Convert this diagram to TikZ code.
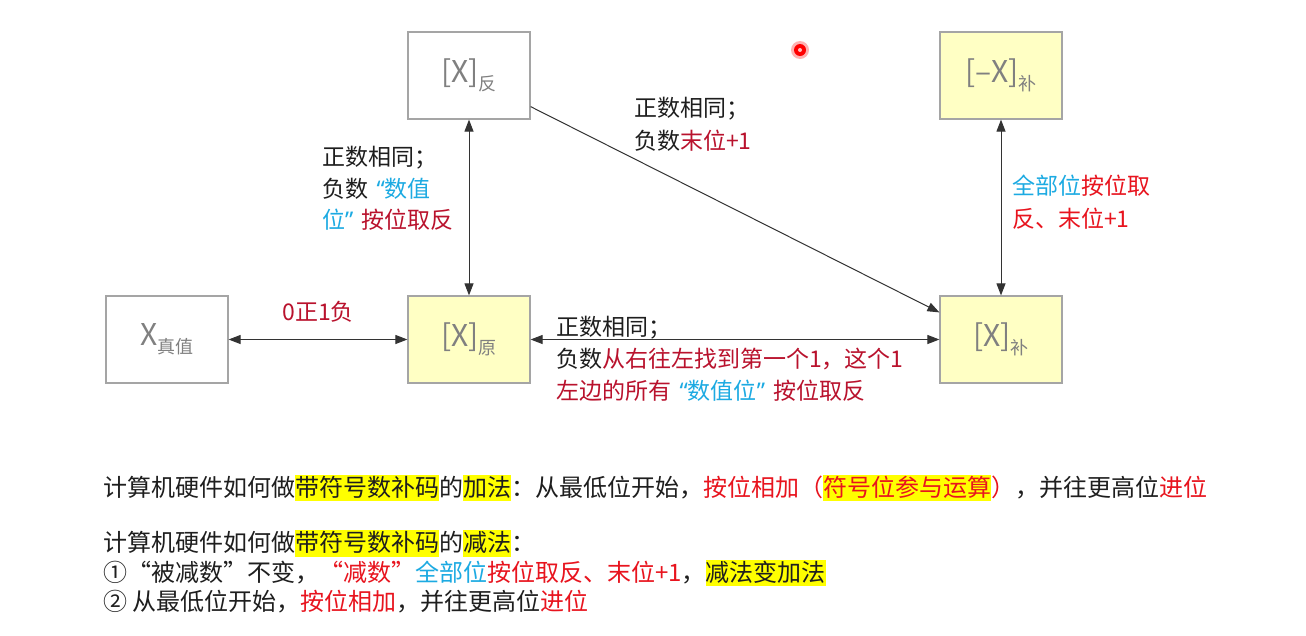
\documentclass[tikz,border=0pt]{standalone}
\usepackage{fontspec}
\setmainfont{Noto Sans CJK SC}
\newfontfamily\latq{Noto Sans}
\usetikzlibrary{arrows.meta}
\definecolor{boxgray}{RGB}{165,165,165}
\definecolor{boxyel}{RGB}{255,255,196}
\definecolor{txtgray}{RGB}{128,128,128}
\definecolor{dred}{RGB}{185,18,45}
\definecolor{bred}{RGB}{232,20,30}
\definecolor{cblue}{RGB}{28,170,226}
\definecolor{ink}{RGB}{30,30,30}
\definecolor{hly}{RGB}{255,255,0}
\newcommand\hlt[1]{{\setlength{\fboxsep}{0pt}\colorbox{hly}{\rule[-0.2em]{0pt}{1.1em}#1}}}
\newcommand\boxlab[2]{{\fontsize{30}{30}\selectfont #1}\raisebox{-8pt}{\fontsize{18}{18}\selectfont #2}}
\newcommand\myLq{\makebox[0.72em][r]{\latq\bfseries “}}
\newcommand\myRq{\makebox[0.72em][l]{\latq\bfseries ”}}
\tikzset{
  >={Triangle[length=12pt,width=9pt]},
  box/.style={draw=boxgray, line width=1.2pt, minimum width=122pt, minimum height=87pt, inner sep=0pt, text=txtgray},
  ybox/.style={box, fill=boxyel},
  wbox/.style={box, fill=white},
  conn/.style={draw=black!80, line width=1pt},
  lbl/.style={anchor=north west, inner sep=0pt, align=left, text=ink},
  bt/.style={inner sep=0pt, align=left, text=ink}
}
\begin{document}
\begin{tikzpicture}[x=1pt,y=-1pt]
\fill[white] (0,0) rectangle (1306,635);
\useasboundingbox (0,0) rectangle (1306,635);

% boxes
\node[wbox] (fan) at (469,75.5) {\boxlab{[X]}{反}};
\node[ybox] (nbu) at (1001,75.5) {\boxlab{[–X]}{补}};
\node[wbox] (zhen) at (167,339.5) {\boxlab{X}{真值}};
\node[ybox] (yuan) at (469,339.5) {\boxlab{[X]}{原}};
\node[ybox] (bu) at (1001,339.5) {\boxlab{[X]}{补}};

% connectors
\draw[conn,<->] (fan) -- (yuan);
\draw[conn,<->] (nbu) -- (bu);
\draw[conn,<->] (zhen) -- (yuan);
\draw[conn,<->] (yuan) -- (bu);
\draw[conn,->] ([yshift=13pt]fan.south east) -- ([yshift=-17pt]bu.north west);

% labels
\node[lbl, font=\fontsize{23}{31.5}\selectfont] (l1) at (322,146)
  {正数相同；\\负数{\color{cblue}\myLq 数值}\\{\color{cblue}位\myRq}{\color{dred}按位取反}};
\node[lbl, font=\fontsize{23}{33}\selectfont] (l2) at (634,97)
  {正数相同；\\负数{\color{dred}末位+1}};
\node[lbl, font=\fontsize{23}{33}\selectfont] (l3) at (1012,175)
  {{\color{cblue}全部位}{\color{bred}按位取}\\{\color{bred}反、末位+1}};
\node[lbl, anchor=center, text=dred, font=\fontsize{23}{23}\selectfont] (l4) at (318,312) {0正1负};
\node[lbl, font=\fontsize{23}{32}\selectfont] (l5) at (556,316)
  {正数相同；\\负数{\color{dred}从右往左找到第一个1，这个1}\\{\color{dred}左边的所有}{\color{cblue}\myLq 数值位\myRq}{\color{dred}按位取反}};

% bottom text
\node[bt, anchor=west, font=\fontsize{24}{29.5}\selectfont] (t1) at (103,488)
  {计算机硬件如何做\hlt{带符号数补码}的\hlt{加法}：从最低位开始，{\color{bred}按位相加（\hlt{符号位参与运算}）}，并往更高位{\color{bred}进位}};
\node[bt, anchor=north west, font=\fontsize{24}{29.5}\selectfont] (t2) at (103,530)
  {计算机硬件如何做\hlt{带符号数补码}的\hlt{减法}：\\①“被减数”不变，{\color{bred}“减数”}{\color{cblue}全部位}{\color{bred}按位取反、末位+1}，\hlt{减法变加法}\\② 从最低位开始，{\color{bred}按位相加}，并往更高位{\color{bred}进位}};

% laser pointer dot
\fill[red, opacity=0.3] (800,50) circle (9pt);
\fill[red] (800,50) circle (6pt);
\fill[red!25!white] (800,50) circle (2pt);
\end{tikzpicture}
\end{document}
